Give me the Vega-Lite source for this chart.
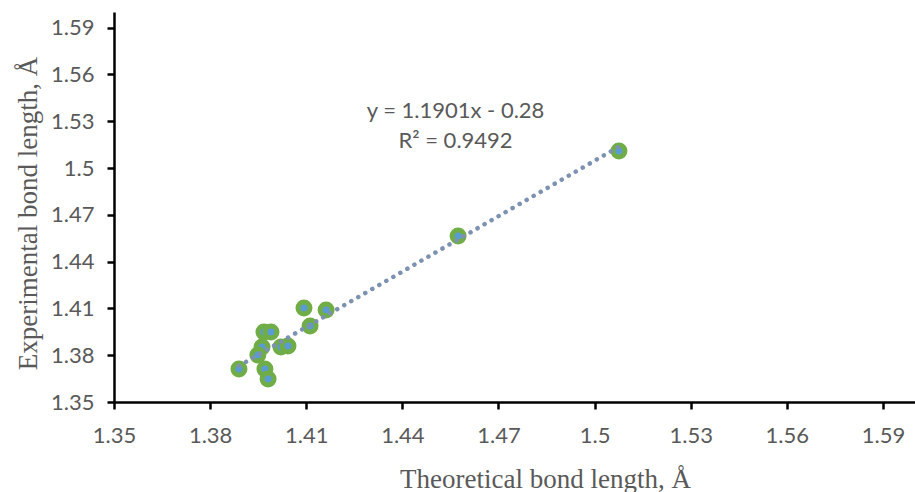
{
  "$schema": "https://vega.github.io/schema/vega-lite/v6.json",
  "width": 801,
  "height": 390,
  "autosize": {"type": "none"},
  "padding": {"left": 114, "top": 12, "right": 0, "bottom": 90},
  "background": "white",
  "config": {"view": {"stroke": null}},
  "datasets": {
    "pts": [
      {"theo": 1.3890, "exp": 1.3712},
      {"theo": 1.3971, "exp": 1.3712},
      {"theo": 1.3981, "exp": 1.3647},
      {"theo": 1.3962, "exp": 1.3853},
      {"theo": 1.3949, "exp": 1.3801},
      {"theo": 1.3968, "exp": 1.3949},
      {"theo": 1.3990, "exp": 1.3949},
      {"theo": 1.4021, "exp": 1.3853},
      {"theo": 1.4043, "exp": 1.3859},
      {"theo": 1.4112, "exp": 1.3987},
      {"theo": 1.4093, "exp": 1.4103},
      {"theo": 1.4162, "exp": 1.4090},
      {"theo": 1.4574, "exp": 1.4564},
      {"theo": 1.5076, "exp": 1.5109}
    ],
    "notes": [
      {"x": 1.4566, "y": 1.5365, "t": "y = 1.1901x - 0.28"},
      {"x": 1.4566, "y": 1.5173, "t": "R² = 0.9492"}
    ]
  },
  "layer": [
    {
      "data": {"name": "pts"},
      "mark": {"type": "point", "shape": "circle", "filled": false, "fill": "#5b9bd5", "fillOpacity": 1, "stroke": "#70ad47", "strokeWidth": 5, "size": 143, "opacity": 1},
      "encoding": {
        "x": {
          "field": "theo", "type": "quantitative",
          "scale": {"domain": [1.35, 1.6], "zero": false, "nice": false},
          "axis": {
            "values": [1.35, 1.38, 1.41, 1.44, 1.47, 1.5, 1.53, 1.56, 1.59],
            "format": ".2~f",
            "grid": false,
            "domainColor": "#000000", "domainWidth": 2.5,
            "tickColor": "#000000", "tickWidth": 2.5, "tickSize": 7,
            "labelFont": "Lato", "labelFontSize": 22, "labelColor": "#595959",
            "labelPadding": 16, "labelFlush": false, "labelOverlap": false,
            "title": "Theoretical bond length, Å",
            "titleFont": "Liberation Serif", "titleFontSize": 27, "titleFontWeight": "normal",
            "titleColor": "#595959", "titleX": 431, "titleY": 85, "titleBaseline": "alphabetic", "titleAlign": "center"
          }
        },
        "y": {
          "field": "exp", "type": "quantitative",
          "scale": {"domain": [1.35, 1.6], "zero": false, "nice": false},
          "axis": {
            "values": [1.35, 1.38, 1.41, 1.44, 1.47, 1.5, 1.53, 1.56, 1.59],
            "format": ".2~f",
            "grid": false,
            "domainColor": "#000000", "domainWidth": 2.5,
            "tickColor": "#000000", "tickWidth": 2.5, "tickSize": 7,
            "labelFont": "Lato", "labelFontSize": 22, "labelColor": "#595959",
            "labelPadding": 13, "labelFlush": false, "labelOverlap": false,
            "title": "Experimental bond length, Å",
            "titleFont": "Liberation Serif", "titleFontSize": 27, "titleFontWeight": "normal",
            "titleColor": "#595959", "titleX": -72, "titleY": 201, "titleAngle": -90, "titleBaseline": "bottom", "titleAlign": "center"
          }
        }
      }
    },
    {
      "data": {"name": "pts"},
      "transform": [{"regression": "exp", "on": "theo"}],
      "mark": {"type": "line", "color": "#7d91b1", "strokeWidth": 4.5, "strokeDash": [0.1, 8], "strokeCap": "round"},
      "encoding": {
        "x": {"field": "theo", "type": "quantitative"},
        "y": {"field": "exp", "type": "quantitative"}
      }
    },
    {
      "data": {"name": "notes"},
      "mark": {"type": "text", "font": "Lato", "fontSize": 22, "color": "#595959", "align": "center", "baseline": "middle"},
      "encoding": {
        "x": {"field": "x", "type": "quantitative"},
        "y": {"field": "y", "type": "quantitative"},
        "text": {"field": "t"}
      }
    }
  ]
}
